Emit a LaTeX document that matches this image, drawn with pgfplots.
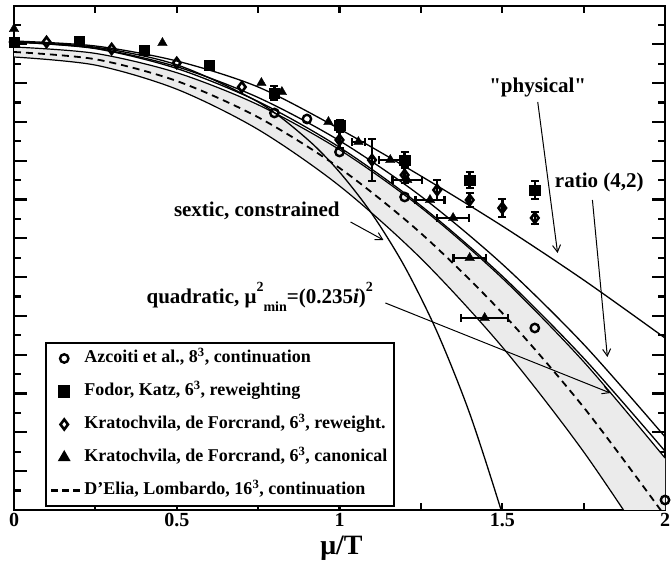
\documentclass[border=0pt]{standalone}
\usepackage{fontspec}
\setmainfont{Liberation Serif}
\newfontfamily\qfont{Liberation Serif}
\usepackage{pgfplots}
\pgfplotsset{compat=1.18}
\usepgfplotslibrary{fillbetween}
\usetikzlibrary{arrows.meta}
\pgfplotsset{mymarklegend/.style={legend image code/.code={\path[draw=none,fill=none] (0pt,-5pt) rectangle (29pt,5pt); \draw[##1, line width=2pt] plot coordinates {(13pt,0pt)};}}}
\begin{document}
\begin{tikzpicture}[font=\bfseries]
\begin{axis}[
  set layers,
  scale only axis, width=651pt, height=504pt,
  xmin=0, xmax=2, ymin=0, ymax=504,
  axis line style={line width=2.5pt},
  xtick={0,0.5,1,1.5,2}, xticklabels={0,0.5,1,1.5,2},
  minor xtick={0.25,0.75,1.25,1.75},
  ytick={0,38.8,77.6,116.4,155.2,194,232.8,271.6,310.4,349.2,388,426.8,465.6,504},
  minor ytick={19.4,58.2,97,135.8,174.6,213.4,252.2,291,329.8,368.6,407.4,446.2,485},
  yticklabel=\empty,
  tick align=inside,
  major tick length=13pt, minor tick length=7pt,
  xtick style={/pgfplots/major tick length=7pt, /pgfplots/minor tick length=7pt},
  tick style={line width=2.2pt, black},
  xticklabel style={font=\bfseries\fontsize{20}{20}\selectfont},
  xlabel={μ/T},
  xlabel style={font=\bfseries\fontsize{28}{28}\selectfont, at={(axis description cs:0.503,-0.045)}, anchor=north},
  legend style={at={(axis description cs:0.0476,0.006)}, anchor=south west, draw=black, line width=2pt,
    font=\bfseries\fontsize{18}{20}\selectfont, inner sep=4pt, row sep=10pt,
    nodes={inner sep=3pt, text height=13pt, text depth=4pt},
    /tikz/every even column/.append style={column sep=8pt}},
  legend cell align=left,
]
\coordinate (pSW) at (rel axis cs:0,0);
\coordinate (pNE) at (rel axis cs:1,1);

% band
\addplot[name path=BU, black, line width=1.2pt, smooth, forget plot] coordinates {
 (0,463) (0.25,456.6) (0.5,437.3) (0.75,405.2) (1.0,360.3) (1.25,302.5) (1.5,231.8) (1.75,148.3) (2.0,52)};
\addplot[name path=BL, black, line width=1.2pt, smooth, forget plot] coordinates {
 (0,453) (0.25,444.9) (0.5,420.8) (0.75,380.5) (1.0,324.1) (1.25,251.6) (1.5,163) (1.75,58.2) (2.0,-62.6)};
\addplot[fill=gray!16, draw=none, forget plot] fill between[of=BU and BL];

% dashed D'Elia
\addplot[black, line width=1.8pt, dash pattern=on 7pt off 5pt, smooth, forget plot] coordinates {
 (0,458) (0.25,450.75) (0.5,429) (0.75,392.75) (1.0,342) (1.25,276.75) (1.5,197) (1.75,102.75) (2.0,-6)};

% physical
\addplot[black, line width=1.3pt, smooth, forget plot] coordinates {
 (0,469) (0.25,464) (0.5,449) (0.75,423) (1.0,381) (1.25,334) (1.5,284) (1.75,230) (2.0,172)};
% ratio (4,2)
\addplot[black, line width=1.3pt, smooth, forget plot] coordinates {
 (0,468) (0.25,461.8) (0.5,443.3) (0.75,412.5) (1.0,369.3) (1.25,313.8) (1.5,245.9) (1.75,165.7) (2.0,73.2)};
% quadratic mu_min
\addplot[black, line width=1.3pt, smooth, forget plot] coordinates {
 (0,468) (0.25,461.4) (0.5,441.5) (0.75,408.5) (1.0,362.7) (1.25,304.3) (1.5,233.9) (1.75,151.9) (2.0,58.9)};
% sextic constrained
\addplot[black, line width=1.3pt, smooth, forget plot] coordinates {
 (0,468) (0.25,462.8) (0.5,445.2) (0.75,408.0) (0.9,371.1) (1.0,337.9) (1.1,296.0) (1.2,243.5) (1.3,177.9) (1.4,96.5) (1.5,-3.8) (1.55,-62)};

% Azcoiti circles
\addplot[only marks, mark=o, mark size=4.2pt, mark options={line width=2.4pt}, mymarklegend] coordinates {
 (0,468) (0.8,397) (0.9,391) (1.0,358) (1.2,313) (1.6,182) (2.0,10)};
\addlegendentry{Azcoiti et al., 8\textsuperscript{3}, continuation}
% Fodor squares
\addplot[only marks, mark=square*, mark size=5.2pt, mymarklegend] coordinates {
 (0,468) (0.2,469) (0.4,460) (0.6,445)};
\addlegendentry{Fodor, Katz, 6\textsuperscript{3}, reweighting}
% Kratochvila reweight diamonds
\addplot[only marks, mark=diamond, mark size=5pt, mark options={line width=2.6pt}, mymarklegend] coordinates {
 (0.1,468) (0.3,461) (0.5,447) (0.7,423)};
\addlegendentry{Kratochvila, de Forcrand, 6\textsuperscript{3}, reweight.}
% Kratochvila canonical triangles
\addplot[only marks, mark=triangle*, mark size=5.5pt, mymarklegend] coordinates {
 (0,481) (0.456,467) (0.76,427) (0.823,418) (0.966,388)};
\addlegendentry{Kratochvila, de Forcrand, 6\textsuperscript{3}, canonical}
\addlegendimage{black, legend image code/.code={\draw[black, line width=2.5pt, dash pattern=on 7pt off 4pt] (0pt,0pt) -- (29pt,0pt);}}
\addlegendentry{D’Elia, Lombardo, 16\textsuperscript{3}, continuation}

% error bar series
\addplot[only marks, mark=square*, mark size=5.2pt, forget plot,
  error bars/.cd, y dir=both, y explicit, error bar style={line width=2.5pt}, error mark options={rotate=90, line width=2.5pt, mark size=4pt}]
 coordinates {(0.8,417) +- (0,7) (1.0,385) +- (0,5) (1.2,350) +- (0,8) (1.4,330) +- (0,8) (1.6,320) +- (0,9)};
\addplot[only marks, mark=diamond, mark size=5pt, mark options={line width=2.6pt}, forget plot,
  error bars/.cd, y dir=both, y explicit, error bar style={line width=2.5pt}, error mark options={rotate=90, line width=2.5pt, mark size=4pt}]
 coordinates {(1.0,370) +- (0,8) (1.1,350) +- (0,21) (1.2,335) +- (0,8) (1.3,320) +- (0,10) (1.4,310) +- (0,7) (1.5,302) +- (0,9) (1.6,292) +- (0,6)};
\addplot[only marks, mark=triangle*, mark size=5.5pt, forget plot,
  error bars/.cd, x dir=both, x explicit, error bar style={line width=2.5pt}, error mark options={rotate=90, line width=2.5pt, mark size=4pt}]
 coordinates {(1.058,368) +- (0.02,0) (1.156,350) +- (0.034,0) (1.208,330) +- (0.045,0) (1.278,310) +- (0.044,0) (1.349,292) +- (0.049,0) (1.40,252) +- (0.05,0) (1.446,192) +- (0.072,0)};

% annotations
\node[font=\bfseries\fontsize{21}{21}\selectfont] at (axis cs:0.746,299) {sextic, constrained};
\draw[line width=1pt, -{Straight Barb[length=7pt,width=8pt]}] (axis cs:1.034,288) -- (axis cs:1.135,270);
\node[font=\bfseries\fontsize{21}{21}\selectfont] at (axis cs:1.609,423) {{\qfont\bfseries "}physical{\qfont\bfseries "}};
\draw[line width=1pt, -{Straight Barb[length=7pt,width=8pt]}] (axis cs:1.609,408) -- (axis cs:1.670,257);
\node[font=\bfseries\fontsize{21}{21}\selectfont] at (axis cs:1.798,328) {ratio (4,2)};
\draw[line width=1pt, -{Straight Barb[length=7pt,width=8pt]}] (axis cs:1.777,310) -- (axis cs:1.823,153);
\node[font=\bfseries\fontsize{21}{21}\selectfont] at (axis cs:0.755,213) {quadratic, μ\raisebox{0.55em}{\fontsize{14}{14}\selectfont 2}\raisebox{-0.4em}{\fontsize{14}{14}\selectfont min}=(0.235\textit{i})\raisebox{0.55em}{\fontsize{14}{14}\selectfont 2}};
\draw[line width=1pt, -{Straight Barb[length=7pt,width=8pt]}] (axis cs:1.141,207) -- (axis cs:1.832,117);
\end{axis}
\pgfresetboundingbox
\useasboundingbox ([xshift=-14pt,yshift=-59pt]pSW) rectangle ([xshift=6pt,yshift=6pt]pNE);
\end{tikzpicture}
\end{document}
